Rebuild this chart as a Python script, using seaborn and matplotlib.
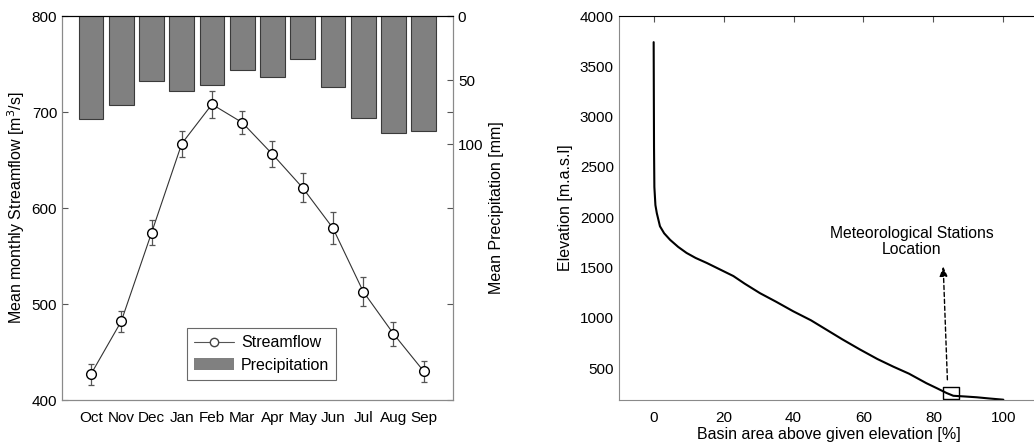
"""
Streamflow / precipitation regime and hypsometric curve of the basin
"""
import numpy as np
import matplotlib
matplotlib.use("Agg")
import matplotlib.pyplot as plt
import seaborn as sns

# Monthly regime (hydrological year Oct-Sep)
months = ["Oct", "Nov", "Dec", "Jan", "Feb", "Mar", "Apr", "May", "Jun", "Jul", "Aug", "Sep"]
streamflow = [427, 482, 574, 667, 708, 689, 656, 621, 579, 513, 469, 430]
streamflow_err = [11, 11, 13, 13.5, 14, 12, 13.5, 15, 17, 15.5, 12.5, 11]
precipitation = [80.5, 69.5, 51, 58.5, 54, 42.5, 47.5, 33.5, 55.5, 79.5, 91.5, 89.5]

# Hypsometric curve
basin_area = [0, 0.05, 0.1, 0.2, 0.5, 0.9, 1.8, 3, 4.7, 7, 9.4, 12, 15.2, 19, 22.8,
              26, 30.4, 35, 39.9, 45, 49.5, 54, 59, 64, 68.5, 73, 78, 81, 83.8,
              85.7, 89, 92.4, 96, 100]
elevation = [3740, 3200, 2700, 2300, 2120, 2040, 1910, 1840, 1775, 1705, 1645, 1595,
             1545, 1480, 1415, 1340, 1245, 1160, 1065, 975, 880, 785, 685, 590,
             515, 445, 350, 300, 252, 225, 218, 210, 198, 186]

station_area = 85
station_elev = 252

sns.set_style("white")
plt.rcParams['font.family'] = ['Liberation Sans', 'DejaVu Sans']
plt.rcParams['font.size'] = 11.5
plt.rcParams['xtick.labelsize'] = 11
plt.rcParams['ytick.labelsize'] = 11
plt.rcParams['xtick.direction'] = 'in'
plt.rcParams['ytick.direction'] = 'in'
plt.rcParams['text.color'] = 'black'
plt.rcParams['axes.labelcolor'] = 'black'
plt.rcParams['xtick.labelcolor'] = 'black'
plt.rcParams['ytick.labelcolor'] = 'black'

W, H = 1034, 448
fig = plt.figure(figsize=(W / 100, H / 100), dpi=100)

spine_gray = '#8a8a8a'

# ---------- Left panel ----------
ax = fig.add_axes([62 / W, 48 / H, 391 / W, 384 / H])
ax2 = ax.twinx()
pos = np.arange(len(months))

sns.barplot(x=pos, y=precipitation, ax=ax2, color='#808080', width=0.82,
            edgecolor='#3a3a3a', linewidth=0.8, saturation=1, zorder=1)
ax2.set_ylim(300, 0)
ax2.set_yticks([0, 50, 100])
ax2.set_ylabel('Mean Precipitation [mm]', labelpad=4)

sns.lineplot(x=pos, y=streamflow, ax=ax, color='#333333', linewidth=0.8,
             marker='o', markersize=7, markerfacecolor='white',
             markeredgecolor='black', markeredgewidth=1.0, zorder=3)
ax.errorbar(pos, streamflow, yerr=streamflow_err, fmt='none', ecolor='#555555',
            elinewidth=0.9, capsize=2.5, capthick=0.9, zorder=2)
ax.set_ylim(400, 800)
ax.set_yticks(np.arange(400, 801, 100))
ax.set_xlim(-0.96, 11.97)
ax.set_xticks(pos)
ax.set_xticklabels(months)
ax.set_ylabel('Mean monthly Streamflow [m$^3$/s]', labelpad=3)
ax.tick_params(axis='y', right=True, length=4, color='#555555')
ax.tick_params(axis='x', length=4, color='#555555', pad=8)
ax2.tick_params(axis='y', length=4, color='#555555')

for a in (ax, ax2):
    for s in ('left', 'right', 'bottom'):
        a.spines[s].set_color(spine_gray)
    a.spines['top'].set_color('black')

handles = [
    plt.Line2D([], [], color='#555555', linewidth=0.8, marker='o', markersize=6,
               markerfacecolor='white', markeredgecolor='#444444'),
    plt.Rectangle((0, 0), 1, 1, facecolor='#808080', edgecolor='none'),
]
leg = ax2.legend(handles, ['Streamflow', 'Precipitation'], loc='lower left',
                 bbox_to_anchor=(0.30, 0.032), frameon=True, fancybox=False,
                 edgecolor='#444444', fontsize=11.5, handlelength=2.5,
                 borderpad=0.45, labelspacing=0.45, handletextpad=0.4)
leg.get_frame().set_linewidth(0.8)

# ---------- Right panel ----------
bx = fig.add_axes([618.7 / W, 48 / H, 419.6 / W, 384 / H])
sns.lineplot(x=basin_area, y=elevation, ax=bx, color='black', linewidth=1.5,
             sort=False, estimator=None)
bx.plot([station_area], [station_elev], marker=[(-1, -0.72), (1, -0.72), (1, 0.72),
        (-1, 0.72), (-1, -0.72)], markersize=11.5, markerfacecolor='none',
        markeredgecolor='black', markeredgewidth=1.0, linestyle='none')
bx.annotate('', xy=(82.8, 1511), xytext=(84, 384),
            arrowprops=dict(arrowstyle='-|>,head_length=0.5,head_width=0.2',
                            linestyle=(0, (3, 2)), color='black', linewidth=1.0,
                            shrinkA=0, shrinkB=0))
bx.text(73.8, 1757, 'Meteorological Stations\nLocation', ha='center', va='center',
        fontsize=11.3, linespacing=1.1)
bx.set_xlim(-10, 110)
bx.set_ylim(183, 4000)
bx.set_xticks(np.arange(0, 101, 20))
bx.set_yticks(np.arange(500, 4001, 500))
bx.tick_params(axis='x', top=True, length=4, color='#555555', pad=8)
bx.tick_params(axis='y', length=4, color='#555555')
bx.set_xlabel('Basin area above given elevation [%]', labelpad=1)
bx.set_ylabel('Elevation [m.a.s.l]', labelpad=5)
for s in ('left', 'right', 'bottom'):
    bx.spines[s].set_color(spine_gray)
bx.spines['top'].set_color('black')

fig.savefig('out.png', dpi=100)
plt.close(fig)
